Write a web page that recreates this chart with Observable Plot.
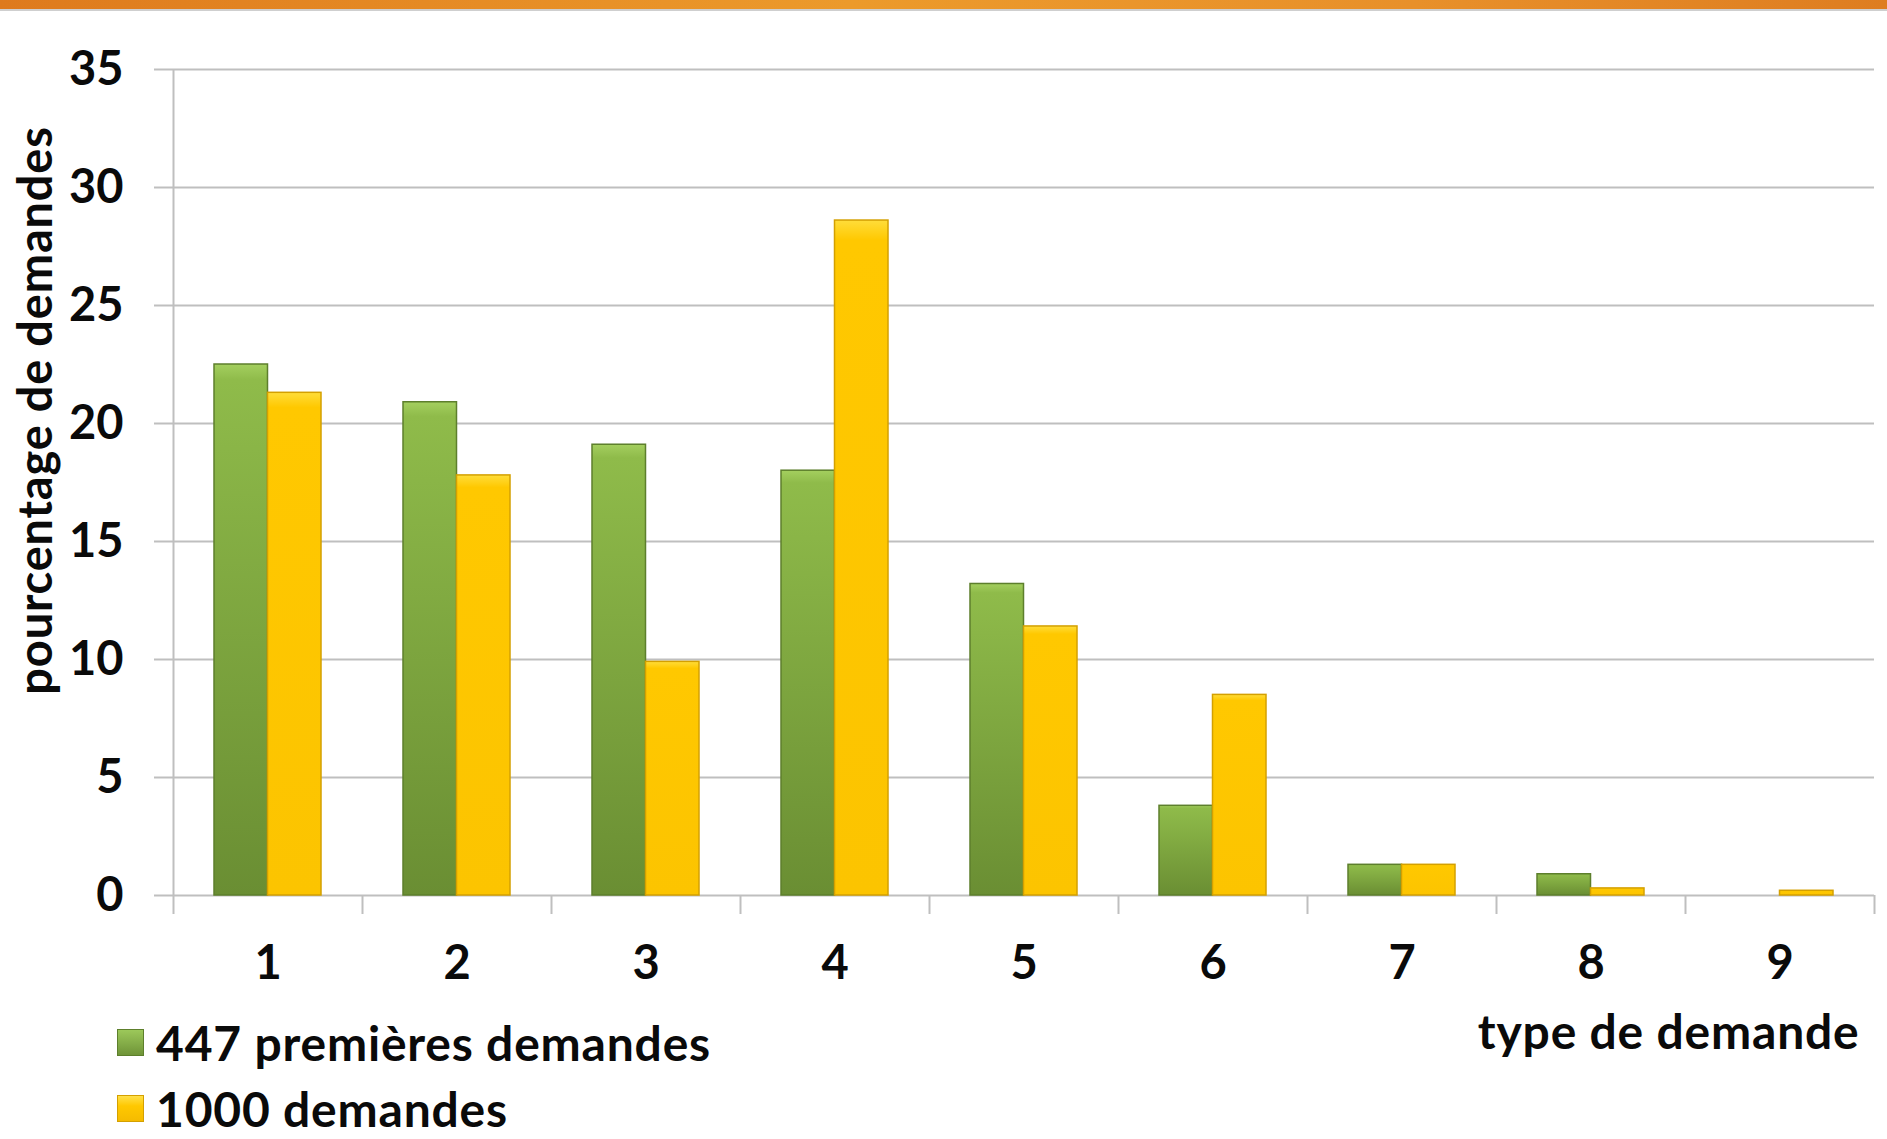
<!DOCTYPE html>
<html>
<head>
<meta charset="utf-8">
<script src="https://cdn.jsdelivr.net/npm/d3@7"></script>
<script src="https://cdn.jsdelivr.net/npm/@observablehq/plot@0.6"></script>
<style>
  body { margin: 0; background: #fff; width: 1887px; height: 1139px; position: relative; overflow: hidden; font-family: Lato, "Open Sans", sans-serif; }
  #chart { position: absolute; left: 0; top: 0; }
  #banner { position: absolute; left: 0; top: 0; width: 1887px; height: 9px; background: linear-gradient(90deg, #de7a1d, #ec9a2b 45%, #e8902a 75%, #de7d20); border-bottom: 2px solid #cfcfcf; }
  #legend { position: absolute; left: 117px; top: 1009px; font-weight: 700; font-size: 48px; letter-spacing: 0.8px; color: #0a0a0a; }
  .item { display: flex; align-items: center; height: 66px; white-space: nowrap; }
  .sw { width: 27px; height: 27px; margin-right: 12px; box-sizing: border-box; }
  .sw.g { background: linear-gradient(180deg, #9cc85a, #6f9438); border: 1.5px solid #5d7f2c; }
  .sw.y { background: linear-gradient(180deg, #ffe04a, #ffc800 40%, #f5bb00); border: 1.5px solid #d4a000; }
</style>
</head>
<body>
<div id="chart"></div>
<div id="banner"></div>
<div id="legend">
  <div class="item"><div class="sw g"></div><span>447 premières demandes</span></div>
  <div class="item"><div class="sw y"></div><span>1000 demandes</span></div>
</div>
<script>
const types = ["1", "2", "3", "4", "5", "6", "7", "8", "9"];
const premieres = [22.5, 20.9, 19.1, 18.0, 13.2, 3.8, 1.3, 0.9, 0];
const milles = [21.3, 17.8, 9.9, 28.6, 11.4, 8.5, 1.3, 0.3, 0.2];
const seriesNames = ["447 premières demandes", "1000 demandes"];
const yTicks = [0, 5, 10, 15, 20, 25, 30, 35];
const yLabel = "pourcentage de demandes";
const xLabel = "type de demande";

const rows = [];
types.forEach((t, i) => {
  rows.push({type: t, series: seriesNames[0], value: premieres[i]});
  rows.push({type: t, series: seriesNames[1], value: milles[i]});
});

const W = 1887, H = 1070, mL = 173, mR = 13, mT = 69, mB = H - 895;
const bw = (W - mL - mR) / types.length;
const innerH = H - mT - mB;
const gridColor = "#bfbfbf";

const plot = Plot.plot({
  width: W,
  height: H,
  marginLeft: mL,
  marginRight: mR,
  marginTop: mT,
  marginBottom: mB,
  style: {fontFamily: "Lato, 'Open Sans', sans-serif", fontWeight: 700, fontSize: "47px", color: "#0a0a0a", background: "transparent", overflow: "visible"},
  x: {type: "band", domain: types, padding: 0, label: null},
  y: {domain: [0, 35], label: null},
  marks: [
    Plot.gridY(yTicks, {stroke: gridColor, strokeOpacity: 1, strokeWidth: 2}),
    Plot.axisY(yTicks, {tickSize: 19, tickPadding: 31, stroke: gridColor, strokeWidth: 2, fill: "#0a0a0a", fontSize: 47, fontWeight: 700, label: null}),
    Plot.axisX({tickSize: 0, tickPadding: 50, fill: "#0a0a0a", fontSize: 47, fontWeight: 700, label: null}),
    Plot.ruleX([types[0]], {x: d => d, dx: -bw / 2, insetBottom: -19, stroke: gridColor, strokeWidth: 2}),
    Plot.ruleX(types.slice(1), {x: d => d, dx: -bw / 2, insetTop: innerH, insetBottom: -19, stroke: gridColor, strokeWidth: 2}),
    Plot.ruleX([types[types.length - 1]], {x: d => d, dx: bw / 2, insetTop: innerH, insetBottom: -19, stroke: gridColor, strokeWidth: 2}),
    Plot.barY(rows.filter(d => d.series === seriesNames[0] && d.value > 0), {
      x: "type", y: "value", insetLeft: 41, insetRight: 94.5,
      fill: "url(#gradGreen)", stroke: "#5d7f2c", strokeWidth: 1.5
    }),
    Plot.barY(rows.filter(d => d.series === seriesNames[1] && d.value > 0), {
      x: "type", y: "value", insetLeft: 94.5, insetRight: 41,
      fill: "url(#gradYellow)", stroke: "#d4a000", strokeWidth: 1.5
    }),
    Plot.text([yLabel], {text: d => d, frameAnchor: "left", textAnchor: "middle", lineAnchor: "middle", rotate: -90, dx: -137, dy: -72, fontSize: 47, fontWeight: 700, fill: "#0a0a0a", className: "spaced"}),
    Plot.text([xLabel], {text: d => d, frameAnchor: "bottom-right", textAnchor: "end", lineAnchor: "middle", dx: -15, dy: 138, fontSize: 48, fontWeight: 700, fill: "#0a0a0a", className: "spaced"})
  ]
});

const svg = d3.select(plot);
svg.selectAll("g.spaced text").style("letter-spacing", "0.8px");
const defs = svg.insert("defs", ":first-child");
const g1 = defs.append("linearGradient").attr("id", "gradGreen").attr("x1", 0).attr("y1", 0).attr("x2", 0).attr("y2", 1);
g1.append("stop").attr("offset", "0%").attr("stop-color", "#a4cf5f");
g1.append("stop").attr("offset", "3%").attr("stop-color", "#8fbb4a");
g1.append("stop").attr("offset", "100%").attr("stop-color", "#6a8e33");
const g2 = defs.append("linearGradient").attr("id", "gradYellow").attr("x1", 0).attr("y1", 0).attr("x2", 0).attr("y2", 1);
g2.append("stop").attr("offset", "0%").attr("stop-color", "#ffdd3a");
g2.append("stop").attr("offset", "3%").attr("stop-color", "#ffc800");
g2.append("stop").attr("offset", "100%").attr("stop-color", "#fcc400");

document.getElementById("chart").appendChild(plot);
</script>
</body>
</html>
